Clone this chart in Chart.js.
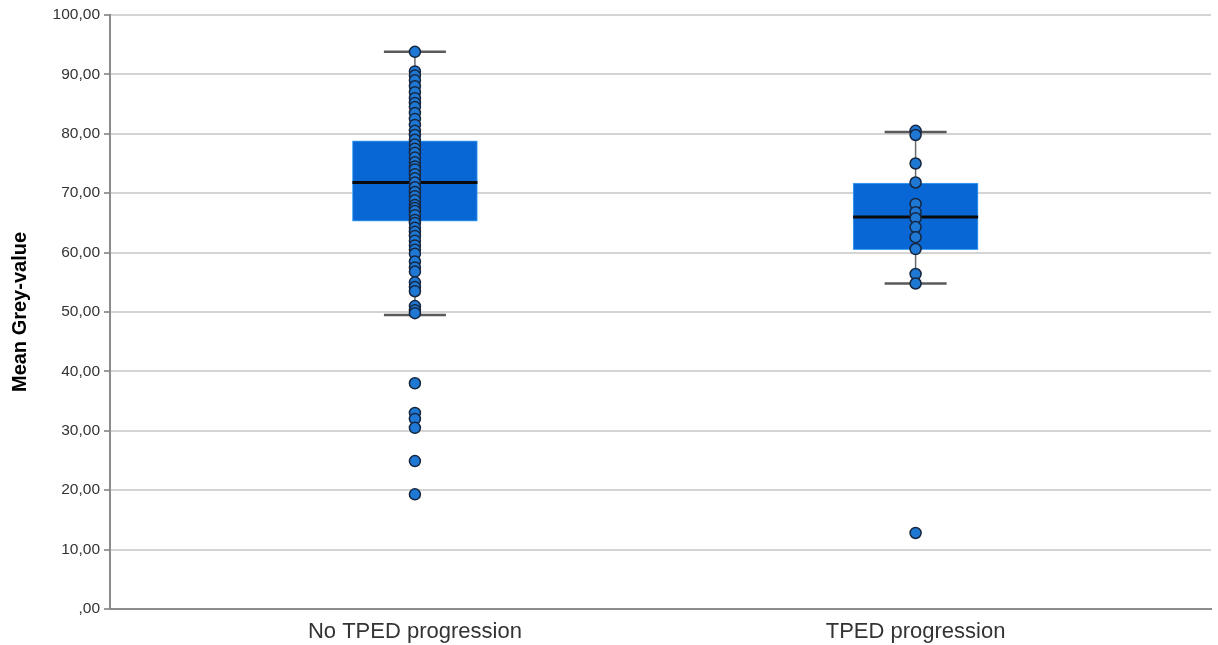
<!DOCTYPE html>
<html>
<head>
<meta charset="utf-8">
<script src="https://cdn.jsdelivr.net/npm/chart.js@4"></script>
<style>
  html, body { margin: 0; padding: 0; background: #fff; }
  #wrap { width: 1218px; height: 645px; }
</style>
</head>
<body>
<div id="wrap"><canvas id="boxChart"></canvas></div>
<script>
// groups and box statistics
const groups = ['No TPED progression', 'TPED progression'];
const q1 = [65.3, 60.5];
const q3 = [78.8, 71.7];
const medians = [71.8, 66.0];
const whiskerLow = [49.5, 54.8];
const whiskerHigh = [93.8, 80.3];

// individual observations per group
const noTpedValues = [93.8, 90.5, 89.8, 89.0, 88.0, 87.0, 86.0, 85.2, 84.5, 83.5, 82.5, 81.5,
  80.5, 79.8, 79.0, 78.2, 77.5, 76.8, 76.0, 75.2, 74.5, 74.0, 73.2, 72.5, 71.8, 71.0, 70.2,
  69.5, 68.8, 68.0, 67.5, 67.0, 66.3, 65.5, 65.0, 64.2, 63.5, 62.8, 62.0, 61.2, 60.5, 59.8,
  58.5, 57.5, 56.8, 55.0, 54.2, 53.5, 51.0, 50.3, 49.8, 38.0, 33.0, 32.0, 30.5, 24.9, 19.3];
const tpedValues = [80.5, 79.8, 75.0, 71.8, 68.2, 66.8, 65.8, 64.3, 62.6, 60.6, 56.4, 54.8, 12.8];

const yTicks = [0, 10, 20, 30, 40, 50, 60, 70, 80, 90, 100];

const boxWidth = 125;   // px
const capWidth = 62;    // px

function fmt(v) {
  return v === 0 ? ',00' : v.toFixed(2).replace('.', ',');
}

const points = [];
noTpedValues.forEach(v => points.push({ x: 0, y: v }));
tpedValues.forEach(v => points.push({ x: 1, y: v }));

// whiskers + median, drawn right after the boxes so the dots sit on top
const boxExtras = {
  id: 'boxExtras',
  afterDatasetDraw(chart, args) {
    if (args.meta.type !== 'bar') return;
    const ctx = chart.ctx;
    const xs = chart.scales.x, ys = chart.scales.y;
    ctx.save();
    groups.forEach((g, i) => {
      const cx = xs.getPixelForValue(i);
      // stems
      ctx.strokeStyle = '#6b6b6b';
      ctx.lineWidth = 1.5;
      ctx.beginPath();
      ctx.moveTo(cx, ys.getPixelForValue(whiskerHigh[i]));
      ctx.lineTo(cx, ys.getPixelForValue(q3[i]));
      ctx.moveTo(cx, ys.getPixelForValue(q1[i]));
      ctx.lineTo(cx, ys.getPixelForValue(whiskerLow[i]));
      ctx.stroke();
      // caps
      ctx.strokeStyle = '#5a5a5a';
      ctx.lineWidth = 2.5;
      ctx.beginPath();
      [whiskerHigh[i], whiskerLow[i]].forEach(v => {
        const py = ys.getPixelForValue(v);
        ctx.moveTo(cx - capWidth / 2, py);
        ctx.lineTo(cx + capWidth / 2, py);
      });
      ctx.stroke();
      // median
      ctx.strokeStyle = '#0a0a0a';
      ctx.lineWidth = 3;
      ctx.beginPath();
      const my = ys.getPixelForValue(medians[i]);
      ctx.moveTo(cx - boxWidth / 2, my);
      ctx.lineTo(cx + boxWidth / 2, my);
      ctx.stroke();
    });
    ctx.restore();
  }
};

const ctx = document.getElementById('boxChart').getContext('2d');

new Chart(ctx, {
  type: 'bar',
  data: {
    datasets: [{
      type: 'bar',
      data: groups.map((g, i) => ({ x: i, y: [q1[i], q3[i]] })),
      backgroundColor: '#0867d4',
      borderColor: '#45a4f5',
      borderWidth: 1,
      borderSkipped: false,
      barThickness: boxWidth,
      order: 2
    }, {
      type: 'scatter',
      data: points,
      backgroundColor: '#1e78d4',
      borderColor: '#16263f',
      borderWidth: 1.5,
      pointRadius: 5.5,
      order: 1
    }]
  },
  options: {
    responsive: true,
    maintainAspectRatio: false,
    animation: false,
    layout: { padding: { top: 15, right: 0, left: 0, bottom: 0 } },
    plugins: {
      legend: { display: false },
      tooltip: { enabled: false }
    },
    scales: {
      x: {
        type: 'linear',
        offset: false,
        min: -0.609,
        max: 1.59,
        afterBuildTicks: scale => { scale.ticks = groups.map((g, i) => ({ value: i })); },
        afterFit: scale => { scale.height = 36; },
        grid: { display: false, drawTicks: false },
        border: { display: true, color: '#8c8c8c', width: 2 },
        ticks: {
          padding: 10,
          color: '#333',
          font: { family: 'Liberation Sans, Arial, sans-serif', size: 22 },
          callback: v => groups[v]
        }
      },
      y: {
        min: 0,
        max: 100,
        afterBuildTicks: scale => { scale.ticks = yTicks.map(v => ({ value: v })); },
        afterFit: scale => { scale.width = 110; },
        grid: { color: '#d4d4d4', lineWidth: 2, tickLength: 6, tickColor: '#9a9a9a' },
        border: { display: true, color: '#8c8c8c', width: 2 },
        ticks: {
          padding: 4,
          color: '#333',
          font: { family: 'Liberation Sans, Arial, sans-serif', size: 15.5 },
          callback: v => fmt(v)
        },
        title: {
          display: true,
          text: 'Mean Grey-value',
          color: '#000',
          padding: { top: 8, bottom: 2 },
          font: { family: 'Liberation Sans, Arial, sans-serif', size: 20, weight: 'bold' }
        }
      }
    }
  },
  plugins: [boxExtras]
});
</script>
</body>
</html>
